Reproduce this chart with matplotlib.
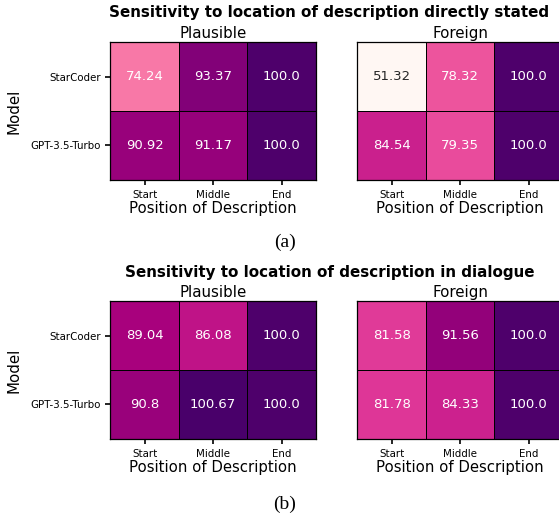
import numpy as np
import matplotlib
matplotlib.use("Agg")
import matplotlib.pyplot as plt
from matplotlib.colors import Normalize, to_rgb

models = ["StarCoder", "GPT-3.5-Turbo"]
positions = ["Start", "Middle", "End"]
panel_names = ["Plausible", "Foreign"]

titles = ["Sensitivity to location of description directly stated",
          "Sensitivity to location of description in dialogue"]
captions = ["(a)", "(b)"]

a_plausible = [[74.24, 93.37, 100.0],
               [90.92, 91.17, 100.0]]
a_foreign = [[51.32, 78.32, 100.0],
             [84.54, 79.35, 100.0]]
b_plausible = [[89.04, 86.08, 100.0],
               [90.8, 100.67, 100.0]]
b_foreign = [[81.58, 91.56, 100.0],
             [81.78, 84.33, 100.0]]

groups = [[a_plausible, a_foreign], [b_plausible, b_foreign]]

allv = np.array(groups, dtype=float)
norm = Normalize(vmin=allv.min(), vmax=allv.max())
cmap = plt.get_cmap("RdPu")

W, H = 559, 517
fig = plt.figure(figsize=(W / 100, H / 100), dpi=100)


def rel_lum(c):
    rgb = np.array(to_rgb(c))
    rgb = np.where(rgb <= 0.03928, rgb / 12.92, ((rgb + 0.055) / 1.055) ** 2.4)
    return rgb.dot([0.2126, 0.7152, 0.0722])


def px_axes(x0, y0, w, h):
    return fig.add_axes([x0 / W, (H - y0 - h) / H, w / W, h / H])


panel_x = [110.3, 357.3]
panel_w = 205.7
panel_top = [42.3, 301.3]
panel_h = 137.5
title_y = [13, 273]
caption_y = [242, 504]

for g, (pair, ptop) in enumerate(zip(groups, panel_top)):
    fig.text(329.5 / W, 1 - title_y[g] / H, titles[g], ha="center", va="center",
             fontsize=10.9, fontweight="bold")
    fig.text(285 / W, 1 - caption_y[g] / H, captions[g], ha="center", va="center",
             fontsize=14, family="Liberation Serif")
    fig.text(14 / W, 1 - (ptop + panel_h / 2) / H, "Model", rotation=90,
             ha="center", va="center", fontsize=10.8)
    for p, data in enumerate(pair):
        ax = px_axes(panel_x[p], ptop, panel_w, panel_h)
        arr = np.array(data, dtype=float)
        ax.pcolormesh(arr, cmap=cmap, norm=norm, edgecolors="black", linewidth=0.5)
        ax.set_xlim(0, arr.shape[1])
        ax.set_ylim(arr.shape[0], 0)
        for i in range(arr.shape[0]):
            for j in range(arr.shape[1]):
                col = cmap(norm(arr[i, j]))
                tc = "#262626" if rel_lum(col) > 0.408 else "white"
                ax.text(j + 0.5, i + 0.5, str(data[i][j]), ha="center", va="center",
                        color=tc, fontsize=9.5)
        ax.set_xticks(np.arange(arr.shape[1]) + 0.5)
        ax.set_xticklabels(positions, fontsize=7.4)
        ax.set_xlabel("Position of Description", fontsize=10.7, labelpad=1)
        ax.set_title(panel_names[p], fontsize=10.8, pad=3)
        if p == 0:
            ax.set_yticks(np.arange(arr.shape[0]) + 0.5)
            ax.set_yticklabels(models, fontsize=7.4)
        else:
            ax.set_yticks([])
        ax.tick_params(length=3.5, width=1.2)
        for s in ax.spines.values():
            s.set_linewidth(0.9)

fig.savefig("out.png", dpi=100)
